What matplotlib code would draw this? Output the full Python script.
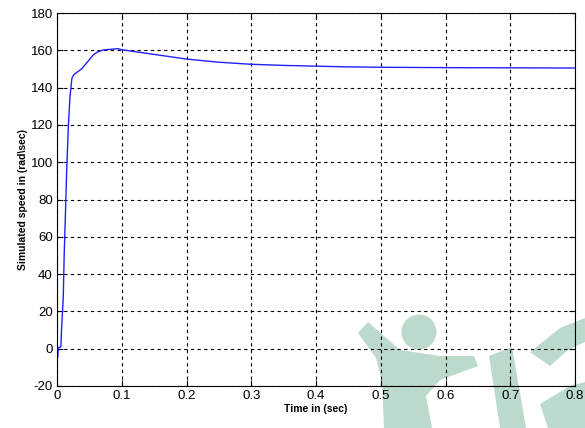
import matplotlib
matplotlib.use('Agg')
import matplotlib.pyplot as plt
from matplotlib.patches import Ellipse, Polygon

# Simulated speed response
time_s = [0.0, 0.001, 0.002, 0.006, 0.007, 0.0085, 0.0097, 0.011, 0.013, 0.015,
          0.0175, 0.020, 0.023, 0.026, 0.032, 0.038, 0.044, 0.050, 0.056, 0.063,
          0.072, 0.085, 0.094, 0.100, 0.120, 0.150, 0.200, 0.250, 0.300, 0.350,
          0.400, 0.450, 0.500, 0.600, 0.700, 0.800]
speed = [-2.0, -4.5, 0.5, 1.0, 10.0, 20.0, 28.0, 49.0, 72.0, 96.0,
         119.0, 135.0, 145.0, 147.0, 148.5, 150.0, 152.5, 155.0, 157.5, 159.2,
         160.2, 160.6, 160.9, 160.3, 159.3, 157.8, 155.3, 153.6, 152.5, 151.9,
         151.5, 151.1, 150.9, 150.7, 150.6, 150.5]

xticks = [0, 0.1, 0.2, 0.3, 0.4, 0.5, 0.6, 0.7, 0.8]
xtick_labels = ['0', '0.1', '0.2', '0.3', '0.4', '0.5', '0.6', '0.7', '0.8']
yticks = [-20, 0, 20, 40, 60, 80, 100, 120, 140, 160, 180]

plt.rcParams['font.family'] = ['Liberation Sans', 'DejaVu Sans']
plt.rcParams['axes.unicode_minus'] = False

W, H = 585, 428
fig = plt.figure(figsize=(W / 100, H / 100), dpi=100)
ax = fig.add_axes([57 / W, 1 - 386 / H, (575 - 57) / W, (386 - 13) / H])
ax.set_facecolor('none')


def px(x, y):
    # image pixel -> figure fraction
    return (x / W, 1 - y / H)


# watermark, behind the axes content
wm = '#bcdacb'
fig.patches.append(Ellipse(px(419, 332), 35 / W, 35 / H, transform=fig.transFigure,
                           facecolor=wm, edgecolor='none', zorder=-1))
body = [(358, 333), (368, 322), (400, 350), (440, 356), (474, 356), (478, 366),
        (440, 380), (426, 396), (432, 428), (384, 428), (382, 382), (376, 358)]
fig.patches.append(Polygon([px(*p) for p in body], closed=True, transform=fig.transFigure,
                           facecolor=wm, edgecolor='none', zorder=-1))
stem = [(489, 356), (512, 347), (526, 428), (500, 428)]
fig.patches.append(Polygon([px(*p) for p in stem], closed=True, transform=fig.transFigure,
                           facecolor=wm, edgecolor='none', zorder=-1))
s_top = [(530, 352), (560, 328), (585, 318), (585, 342), (568, 350), (550, 366)]
fig.patches.append(Polygon([px(*p) for p in s_top], closed=True, transform=fig.transFigure,
                           facecolor=wm, edgecolor='none', zorder=-1))
s_low = [(540, 404), (570, 386), (585, 382), (585, 428), (548, 428)]
fig.patches.append(Polygon([px(*p) for p in s_low], closed=True, transform=fig.transFigure,
                           facecolor=wm, edgecolor='none', zorder=-1))

ax.plot(time_s, speed, color='#2020ff', linewidth=1.0)

ax.set_xlim(0, 0.8)
ax.set_ylim(-20, 180)
ax.set_xticks(xticks)
ax.set_xticklabels(xtick_labels)
ax.set_yticks(yticks)
ax.tick_params(direction='in', top=True, right=True, length=4, width=0.8,
               labelsize=9.5, pad=3, colors='black')
ax.grid(True, color='black', linestyle=(0, (3, 3)), linewidth=0.8)
for s in ax.spines.values():
    s.set_linewidth(0.8)

ax.set_xlabel('Time in (sec)', fontsize=7.5, fontweight='bold', labelpad=1)
ax.set_ylabel('Simulated speed in (rad\\sec)', fontsize=7.5, fontweight='bold', labelpad=2)

fig.savefig('out.png', dpi=100)
